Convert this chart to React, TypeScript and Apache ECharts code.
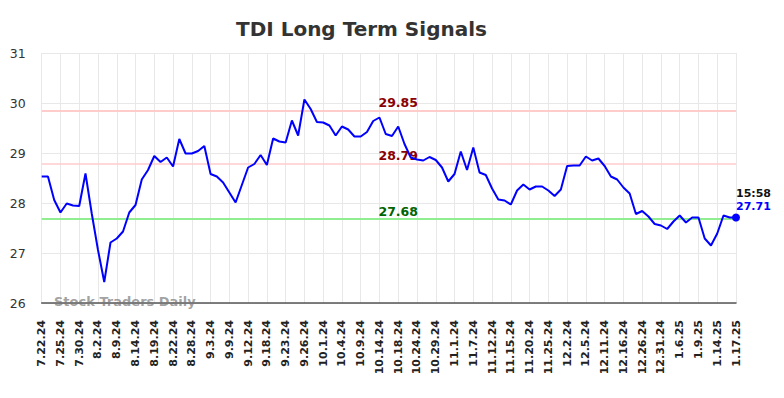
import React, { useEffect, useRef } from "react";
import * as echarts from "echarts";

const tickLabels = [
  "7.22.24", "7.25.24", "7.30.24", "8.2.24", "8.9.24", "8.14.24", "8.19.24", "8.22.24",
  "8.28.24", "9.3.24", "9.9.24", "9.12.24", "9.18.24", "9.23.24", "9.26.24", "10.1.24",
  "10.4.24", "10.9.24", "10.14.24", "10.18.24", "10.24.24", "10.29.24", "11.1.24", "11.7.24",
  "11.12.24", "11.15.24", "11.20.24", "11.25.24", "12.2.24", "12.5.24", "12.11.24", "12.16.24",
  "12.26.24", "12.31.24", "1.6.25", "1.9.25", "1.14.25", "1.17.25",
];

const values = [
  28.53, 28.53, 28.06, 27.81, 27.99, 27.95, 27.94, 28.59, 27.79, 27.06,
  26.42, 27.21, 27.29, 27.43, 27.81, 27.96, 28.47, 28.66, 28.94, 28.82,
  28.91, 28.73, 29.28, 28.99, 28.99, 29.04, 29.14, 28.58, 28.53, 28.41,
  28.21, 28.01, 28.36, 28.71, 28.78, 28.96, 28.76, 29.29, 29.23, 29.21,
  29.65, 29.35, 30.07, 29.88, 29.62, 29.61, 29.55, 29.35, 29.53, 29.47,
  29.33, 29.33, 29.42, 29.64, 29.71, 29.38, 29.34, 29.53, 29.18, 28.91,
  28.87, 28.85, 28.92, 28.86, 28.71, 28.43, 28.58, 29.03, 28.66, 29.11,
  28.61, 28.56, 28.29, 28.07, 28.05, 27.97, 28.25, 28.37, 28.27, 28.33,
  28.33, 28.25, 28.14, 28.27, 28.74, 28.75, 28.75, 28.93, 28.85, 28.89,
  28.74, 28.53, 28.47, 28.31, 28.19, 27.78, 27.84, 27.73, 27.58, 27.55,
  27.48, 27.63, 27.75, 27.61, 27.71, 27.71, 27.29, 27.15, 27.39, 27.75,
  27.71, 27.71,
];

const upperLevel = 29.85;
const midLevel = 28.79;
const lowerLevel = 27.68;
const lastTime = "15:58";
const lastValue = 27.71;
const levelLabelIndex = 57;

const categories: string[] = tickLabels.flatMap((l, i) =>
  i < tickLabels.length - 1 ? [l, "", ""] : [l]
);

export default function App() {
  const ref = useRef<HTMLDivElement>(null);
  useEffect(() => {
    if (!ref.current) return;
    const chart = echarts.init(ref.current, undefined, { renderer: "svg" });
    const showIdx = (i: number) => i % 3 === 0;
    const levelLabel = (color: string) => ({
      show: true,
      position: "top",
      distance: 1,
      color,
      fontWeight: "bold",
      fontSize: 12.5,
      fontFamily: "DejaVu Sans",
    });
    chart.setOption({
      animation: false,
      title: {
        text: "TDI Long Term Signals",
        left: 231,
        top: 14,
        textStyle: { fontFamily: "DejaVu Sans", fontSize: 20, fontWeight: "bold", color: "#333" },
      },
      grid: { left: 41.7, right: 48, top: 53, bottom: 95 },
      xAxis: {
        type: "category",
        data: categories,
        boundaryGap: false,
        axisLine: { show: true, lineStyle: { color: "#555", width: 1.5 } },
        axisTick: { show: false },
        axisLabel: {
          interval: (i: number) => showIdx(i),
          rotate: 90,
          margin: 17,
          fontFamily: "DejaVu Sans",
          fontSize: 11,
          fontWeight: "bold",
          color: "#222",
        },
        splitLine: { show: true, interval: (i: number) => showIdx(i), lineStyle: { color: "#e8e8e8", width: 1 } },
      },
      yAxis: {
        type: "value",
        min: 26,
        max: 31,
        interval: 1,
        axisLine: { show: false },
        axisTick: { show: false },
        axisLabel: { fontFamily: "DejaVu Sans", fontSize: 12.5, color: "#333", margin: 16 },
        splitLine: { lineStyle: { color: "#e8e8e8", width: 1 } },
      },
      graphic: [
        {
          type: "text",
          left: 54,
          top: 295,
          style: {
            text: "Stock Traders Daily",
            font: "bold 13px 'DejaVu Sans'",
            fill: "rgba(120,120,120,0.7)",
          },
          z: 100,
        },
      ],
      series: [
        {
          type: "line",
          data: values,
          showSymbol: false,
          lineStyle: { color: "#0000ff", width: 2 },
          itemStyle: { color: "#0000ff" },
          z: 5,
          markLine: {
            silent: true,
            symbol: "none",
            label: { show: false },
            data: [
              { yAxis: upperLevel, lineStyle: { color: "#ffcccc", width: 2, type: "solid" } },
              { yAxis: midLevel, lineStyle: { color: "#ffcccc", width: 1.5, type: "solid" } },
              { yAxis: lowerLevel, lineStyle: { color: "#90ee90", width: 2, type: "solid" } },
            ],
            z: 2,
          },
          markPoint: {
            silent: true,
            data: [
              {
                coord: [levelLabelIndex, upperLevel],
                symbol: "circle",
                symbolSize: 1,
                itemStyle: { color: "rgba(0,0,0,0)" },
                label: { ...levelLabel("#8b0000"), formatter: upperLevel.toFixed(2) },
              },
              {
                coord: [levelLabelIndex, midLevel],
                symbol: "circle",
                symbolSize: 1,
                itemStyle: { color: "rgba(0,0,0,0)" },
                label: { ...levelLabel("#8b0000"), formatter: midLevel.toFixed(2) },
              },
              {
                coord: [levelLabelIndex, lowerLevel],
                symbol: "circle",
                symbolSize: 1,
                itemStyle: { color: "rgba(0,0,0,0)" },
                label: { ...levelLabel("#006400"), formatter: lowerLevel.toFixed(2) },
              },
              {
                coord: [values.length - 1, lastValue],
                symbol: "circle",
                symbolSize: 8,
                itemStyle: { color: "#0000ff" },
                label: {
                  show: true,
                  position: "top",
                  align: "left",
                  verticalAlign: "bottom",
                  distance: 1,
                  formatter: "{a|" + lastTime + "}\n{b|" + lastValue.toFixed(2) + "}",
                  rich: {
                    a: { color: "#111", fontWeight: "bold", fontSize: 11, fontFamily: "DejaVu Sans", lineHeight: 13 },
                    b: { color: "#0000ff", fontWeight: "bold", fontSize: 11, fontFamily: "DejaVu Sans", lineHeight: 13 },
                  },
                },
              },
            ],
          },
        },
      ],
    });
    return () => chart.dispose();
  }, []);
  return <div ref={ref} style={{ width: 784, height: 398, margin: -8 }} />;
}
